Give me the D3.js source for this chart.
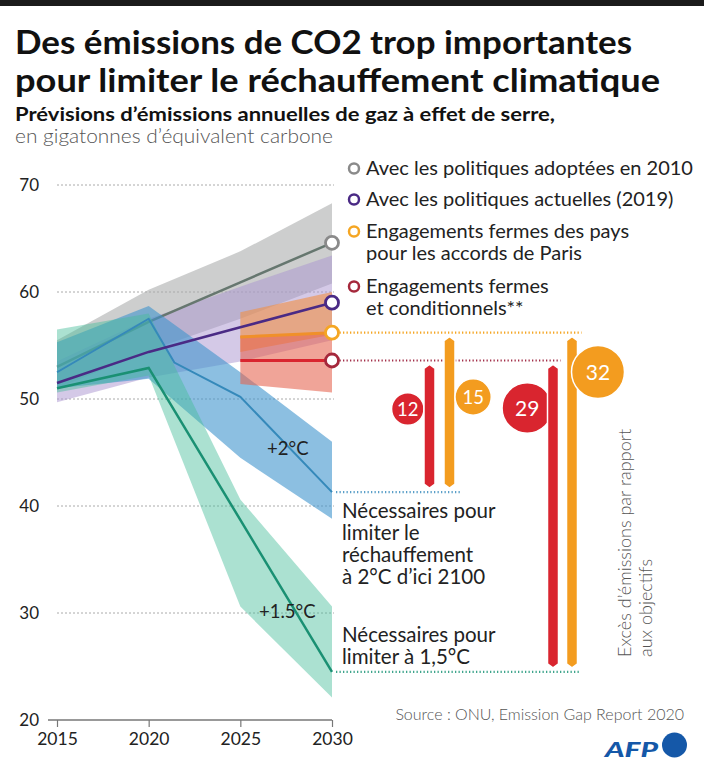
<!DOCTYPE html>
<html><head><meta charset="utf-8">
<script src="https://cdn.jsdelivr.net/npm/d3@7"></script>
<style>body{margin:0;background:#fff} svg{display:block;font-family:Lato,"Noto Sans",sans-serif}</style>
</head><body>
<svg id="c" width="704" height="768"></svg>
<script>
// ---------- DATA ----------
const years = [2015, 2020, 2025, 2030];
const yTicks = [20, 30, 40, 50, 60, 70];
const xTicks = [2015, 2020, 2025, 2030];

const pol2010 = [53.0, 57.2, 60.9, 64.6];
const pol2010Low = [51.0, 54.5, 57.5, 60.8];
const pol2010High = [55.5, 60.2, 63.8, 68.3];

const pol2019 = [51.5, 54.4, 56.7, 59.0];
const pol2019Low = [49.7, 52.0, 53.5, 55.5];
const pol2019High = [53.5, 57.5, 60.5, 63.4];

const twoYears = [2015, 2020, 2021.4, 2025, 2030];
const twoDeg = [52.5, 57.5, 53.4, 50.2, 41.3];
const twoDegLow = [51.0, 51.9, 44.5, 38.8];
const twoDegHigh = [55.3, 58.7, 52.5, 46.0];

const onePointFive = [51.0, 52.9, 38.7, 24.5];
const onePointFiveLow = [50.6, 52.2, 30.6, 22.1];
const onePointFiveHigh = [56.5, 58.0, 40.6, 30.6];

const pledgeYears = [2025, 2030];
const firm = [55.8, 56.2];
const firmLow = [54.4, 56.0];
const firmHigh = [58.1, 60.0];
const cond = [53.6, 53.6];
const condLow = [51.4, 50.6];
const condHigh = [55.9, 56.2];

const gapLabels = [12, 15, 29, 32];

const legendLabels = [
  ["Avec les politiques adoptées en 2010"],
  ["Avec les politiques actuelles (2019)"],
  ["Engagements fermes des pays", "pour les accords de Paris"],
  ["Engagements fermes", "et conditionnels**"]
];

// ---------- SETUP ----------
const svg = d3.select("#c");
const x = d3.scaleLinear().domain([2015, 2030]).range([57, 332]);
const y = d3.scaleLinear().domain([20, 70]).range([720, 185]);

const C = {
  grayBand: "#a9abab", purpleBand: "#a993cf", blueBand: "#3f95cd", greenBand: "#45bd98",
  firmBand: "#f08f45", condBand: "#e5634d",
  grayLine: "#66776f", purpleLine: "#4a2a85", blueLine: "#3589ba", greenLine: "#1a9073",
  orange: "#f39c1f", red: "#d9252f", darkRed: "#a5283c"
};

svg.append("rect").attr("x", 0).attr("y", 0).attr("width", 704).attr("height", 6).attr("fill", "#1b1b1b");

// Titles
const t = svg.append("g").attr("fill", "#111");
t.append("text").attr("x", 15).attr("y", 54).attr("font-size", 32).attr("font-weight", 700)
  .attr("textLength", 617).attr("lengthAdjust", "spacingAndGlyphs").text("Des émissions de CO2 trop importantes");
t.append("text").attr("x", 15).attr("y", 92).attr("font-size", 32).attr("font-weight", 700)
  .attr("textLength", 645).attr("lengthAdjust", "spacingAndGlyphs").text("pour limiter le réchauffement climatique");
t.append("text").attr("x", 15).attr("y", 121).attr("font-size", 19.5).attr("font-weight", 700)
  .attr("textLength", 540).attr("lengthAdjust", "spacingAndGlyphs").text("Prévisions d’émissions annuelles de gaz à effet de serre,");
t.append("text").attr("x", 15).attr("y", 143).attr("font-size", 19.5).attr("font-weight", 300).attr("fill", "#555")
  .attr("textLength", 318).attr("lengthAdjust", "spacingAndGlyphs").text("en gigatonnes d’équivalent carbone");

// Grid
const grid = svg.append("g");
yTicks.filter(v => v > 20).forEach(v => {
  grid.append("line").attr("x1", x(2015)).attr("x2", x(2030) + 2).attr("y1", y(v)).attr("y2", y(v))
    .attr("stroke", "#aaa").attr("stroke-width", 1).attr("stroke-dasharray", "2 2");
});
grid.selectAll("text.yt").data(yTicks).join("text").attr("class", "yt")
  .attr("x", 39).attr("y", d => y(d)).attr("dy", "0.35em").attr("text-anchor", "end")
  .attr("font-size", 17).attr("fill", "#222").text(d => d);

// X axis
const xAxis = svg.append("g").attr("transform", `translate(0,${y(20)})`)
  .call(d3.axisBottom(x).tickValues(xTicks).tickFormat(d3.format("d")).tickSize(7).tickSizeOuter(0));
xAxis.select(".domain").attr("d", `M48,0H${x(2030)}`).attr("stroke", "#777").attr("stroke-width", 1.5);
xAxis.selectAll(".tick line").attr("stroke", "#777").attr("stroke-width", 1.2);
xAxis.selectAll(".tick text").attr("font-size", 17.5).attr("fill", "#222").attr("y", 13).attr("font-family", "Lato");

// helpers
const mk = (yrs, lo, hi) => yrs.map((yr, i) => ({ yr, lo: lo[i], hi: hi[i] }));
const mkl = (yrs, v) => yrs.map((yr, i) => ({ yr, v: v[i] }));
const area = d3.area().x(d => x(d.yr)).y0(d => y(d.lo)).y1(d => y(d.hi));
const line = d3.line().x(d => x(d.yr)).y(d => y(d.v));

const bands = svg.append("g");
bands.append("path").attr("d", area(mk(years, pol2010Low, pol2010High))).attr("fill", C.grayBand).attr("opacity", 0.58);
bands.append("path").attr("d", area(mk(years, pol2019Low, pol2019High))).attr("fill", C.purpleBand).attr("opacity", 0.5);
bands.append("path").attr("d", line(mkl(years, pol2010))).attr("fill", "none").attr("stroke", C.grayLine).attr("stroke-width", 2.5);
bands.append("path").attr("d", area(mk(years, twoDegLow, twoDegHigh))).attr("fill", C.blueBand).attr("opacity", 0.6);
bands.append("path").attr("d", area(mk(years, onePointFiveLow, onePointFiveHigh))).attr("fill", C.greenBand).attr("opacity", 0.45);
bands.append("path").attr("d", area(mk(pledgeYears, firmLow, firmHigh))).attr("fill", C.firmBand).attr("opacity", 0.6);
bands.append("path").attr("d", area(mk(pledgeYears, condLow, condHigh))).attr("fill", C.condBand).attr("opacity", 0.58);

// lines
const lines = svg.append("g").attr("fill", "none");
lines.append("path").attr("d", line(mkl(twoYears, twoDeg))).attr("stroke", C.blueLine).attr("stroke-width", 2);
lines.append("path").attr("d", line(mkl(years, onePointFive))).attr("stroke", C.greenLine).attr("stroke-width", 2.5);
lines.append("path").attr("d", line(mkl(years, pol2019))).attr("stroke", C.purpleLine).attr("stroke-width", 2.5);
lines.append("path").attr("d", line(mkl(pledgeYears, firm))).attr("stroke", "#f0902a").attr("stroke-width", 3);
lines.append("path").attr("d", line(mkl(pledgeYears, cond))).attr("stroke", C.red).attr("stroke-width", 3);

// targets & levels
const firmEnd = firm[firm.length - 1], condEnd = cond[cond.length - 1];
const twoEnd = twoDeg[twoDeg.length - 1], oneEnd = onePointFive[onePointFive.length - 1];

const dot = (x1, x2, yy, col) => svg.append("line").attr("x1", x1).attr("x2", x2).attr("y1", y(yy)).attr("y2", y(yy))
  .attr("stroke", col).attr("stroke-width", 2.2).attr("stroke-dasharray", "1.3 2.2");

const barW = 11;
const bars = [
  { v: gapLabels[0], top: condEnd, bot: twoEnd, cx: 429.5, col: C.red, side: -1, cy: 409 },
  { v: gapLabels[1], top: firmEnd, bot: twoEnd, cx: 449.5, col: C.orange, side: 1, cy: 397 },
  { v: gapLabels[2], top: condEnd, bot: oneEnd, cx: 553, col: C.red, side: -1, cy: 408, ov: 5 },
  { v: gapLabels[3], top: firmEnd, bot: oneEnd, cx: 572, col: C.orange, side: 1, cy: 372, ov: 6 }
];

dot(x(2030) + 4, bars[3].cx + barW / 2 + 4, firmEnd, "#f5a623");
dot(x(2030) + 4, bars[2].cx + barW / 2 + 2, condEnd, "#a3304a");
dot(x(2030) + 4, bars[1].cx + barW / 2 + 6, twoEnd, "#5a9fc8");
dot(x(2030) + 4, bars[3].cx + barW / 2 + 2, oneEnd, "#3fa58c");

const r = d3.scaleSqrt().domain([0, 32]).range([0, 26.5]);
const barPath = (cx, y1, y2, w) => {
  const p = 4;
  return `M${cx - w / 2},${y1 + p}L${cx},${y1}L${cx + w / 2},${y1 + p}L${cx + w / 2},${y2 - p}L${cx},${y2}L${cx - w / 2},${y2 - p}Z`;
};
const bg = svg.append("g");
const bubble = (b, rr, ccx) => {
  bg.append("circle").attr("cx", ccx).attr("cy", b.cy).attr("r", rr).attr("fill", b.col).attr("stroke", "#fff").attr("stroke-width", 1.5);
  bg.append("text").attr("x", ccx).attr("y", b.cy).attr("dy", "0.36em").attr("text-anchor", "middle")
    .attr("fill", "#fff").attr("font-size", rr > 20 ? 21 : 18.5).text(b.v);
};
bars.forEach(b => {
  const rr = r(b.v);
  const ccx = b.cx + b.side * (barW / 2 + rr - (b.ov || 0));
  if (b.side < 0) bubble(b, rr, ccx);
  bg.append("path").attr("d", barPath(b.cx, y(b.top) + 4, y(b.bot) - 4, barW)).attr("fill", b.col)
    .attr("stroke", "#fff").attr("stroke-width", 1.5);
  if (b.side > 0) bubble(b, rr, ccx);
});

// end circles
const ends = [
  [pol2010[3], "#8a8a8a"], [pol2019[3], C.purpleLine], [firmEnd, "#f5a623"], [condEnd, C.darkRed]
];
ends.forEach(([v, col]) => {
  svg.append("circle").attr("cx", x(2030)).attr("cy", y(v)).attr("r", 6.5)
    .attr("fill", "#fff").attr("stroke", col).attr("stroke-width", 2.8);
});

// legend
const lg = svg.append("g");
const legendCols = ["#8a8a8a", C.purpleLine, "#f5a623", C.darkRed];
const legendY = [175, 206, 238, 293];
legendLabels.forEach((ls, i) => {
  lg.append("circle").attr("cx", 354).attr("cy", legendY[i] - 6.5).attr("r", 5)
    .attr("fill", "#fff").attr("stroke", legendCols[i]).attr("stroke-width", 2.5);
  ls.forEach((s, j) => {
    lg.append("text").attr("x", 366).attr("y", legendY[i] + j * 22).attr("font-size", 20).attr("fill", "#222").text(s);
  });
});

// labels
svg.append("text").attr("x", 267).attr("y", 455).attr("font-size", 18.5).attr("fill", "#222").text("+2°C");
svg.append("text").attr("x", 259).attr("y", 618).attr("font-size", 18.5).attr("fill", "#222").text("+1.5°C");

const ann1 = ["Nécessaires pour", "limiter le", "réchauffement", "à 2°C d’ici 2100"];
ann1.forEach((s, i) => svg.append("text").attr("x", 342).attr("y", 518 + i * 22).attr("font-size", 20.5).attr("fill", "#222").text(s));
const ann2 = ["Nécessaires pour", "limiter à 1,5°C"];
ann2.forEach((s, i) => svg.append("text").attr("x", 342).attr("y", 642 + i * 22).attr("font-size", 20.5).attr("fill", "#222").text(s));

// vertical label
const vt = svg.append("g").attr("transform", "translate(631,657) rotate(-90)");
vt.append("text").attr("x", 0).attr("y", 0).attr("font-size", 18).attr("font-weight", 300).attr("fill", "#555").text("Excès d’émissions par rapport");
vt.append("text").attr("x", 0).attr("y", 21).attr("font-size", 18).attr("font-weight", 300).attr("fill", "#555").text("aux objectifs");

// source
svg.append("text").attr("x", 684).attr("y", 720).attr("text-anchor", "end").attr("font-size", 16).attr("font-weight", 300)
  .attr("fill", "#555").text("Source : ONU, Emission Gap Report 2020");

// AFP logo
svg.append("text").attr("x", 605).attr("y", 757).attr("font-size", 21).attr("font-weight", 900).attr("font-style", "italic")
  .attr("fill", "#1558a8").attr("textLength", 53).attr("lengthAdjust", "spacingAndGlyphs").text("AFP");
svg.append("circle").attr("cx", 674.5).attr("cy", 745).attr("r", 12.5).attr("fill", "#1558a8");
</script>
</body></html>
